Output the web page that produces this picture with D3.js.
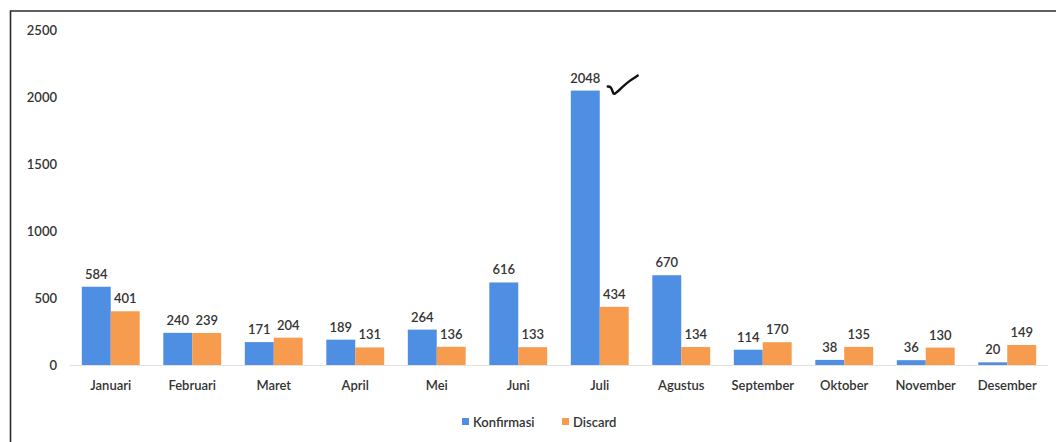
<!DOCTYPE html>
<html>
<head>
<meta charset="utf-8">
<script src="https://cdn.jsdelivr.net/npm/d3@7"></script>
<style>
	html, body { margin: 0; background: #fff; overflow: hidden; }
	svg { display: block; }
</style>
</head>
<body>
<div id="chart"></div>
<script>
// Data
const months = ["Januari", "Februari", "Maret", "April", "Mei", "Juni", "Juli", "Agustus", "September", "Oktober", "November", "Desember"];
const konfirmasi = [584, 240, 171, 189, 264, 616, 2048, 670, 114, 38, 36, 20];
const discard = [401, 239, 204, 131, 136, 133, 434, 134, 170, 135, 130, 149];
const seriesNames = ["Konfirmasi", "Discard"];
const yTicks = [0, 500, 1000, 1500, 2000, 2500];

const width = 1056;
const height = 442;
const colors = ["#4f8fe3", "#f79b4e"];
const textColor = "#333";
const font = "Lato, 'Open Sans', sans-serif";
const fontSize = "13px";

const rows = months.map((m, i) => ({ month: m, values: [konfirmasi[i], discard[i]] }));

const svg = d3
	.select("#chart")
	.append("svg")
	.attr("width", width)
	.attr("height", height)
	.attr("font-family", font);

// Scales
const x0 = d3
	.scaleBand()
	.domain(months)
	.range([70, 1048])
	.paddingInner(0.29)
	.paddingOuter(0.145);

const x1 = d3.scaleBand().domain([0, 1]).range([0, x0.bandwidth()]);

const y = d3.scaleLinear().domain([0, 2500]).range([365, 30]);

// Frame (top and left edges of the scanned box)
svg.append("path")
	.attr("fill", "none")
	.attr("stroke", "#2b2b2b")
	.attr("stroke-width", 1.6)
	.attr("d", d3.line()([[10.5, height], [10.5, 11], [width, 11]]));

// Y axis labels
svg.append("g")
	.attr("transform", "translate(57,0)")
	.call(d3.axisLeft(y).tickValues(yTicks).tickFormat(d3.format("d")).tickSize(0).tickPadding(0))
	.call((g) => g.select(".domain").remove())
	.selectAll(".tick text")
	.attr("font-family", font)
	.attr("font-size", fontSize)
	.attr("font-weight", 600)
	.attr("fill", textColor);

// Baseline
svg.append("line")
	.attr("x1", 70)
	.attr("x2", 1048)
	.attr("y1", y(0) + 0.5)
	.attr("y2", y(0) + 0.5)
	.attr("stroke", "#e2e2e2");

// Bars
const groups = svg
	.append("g")
	.selectAll("g")
	.data(rows)
	.join("g")
	.attr("transform", (d) => `translate(${x0(d.month)},0)`);

groups
	.selectAll("rect")
	.data((d) => d.values)
	.join("rect")
	.attr("x", (d, i) => x1(i))
	.attr("width", x1.bandwidth())
	.attr("y", (d) => y(d))
	.attr("height", (d) => y(0) - y(d))
	.attr("fill", (d, i) => colors[i]);

// Value labels
groups
	.selectAll("text")
	.data((d) => d.values)
	.join("text")
	.attr("x", (d, i) => x1(i) + x1.bandwidth() / 2)
	.attr("y", (d) => y(d) - 8)
	.attr("text-anchor", "middle")
	.attr("font-size", fontSize)
	.attr("font-weight", 600)
	.attr("fill", textColor)
	.text((d) => d);

// X axis labels
svg.append("g")
	.attr("transform", `translate(0,${y(0)})`)
	.call(d3.axisBottom(x0).tickSize(0).tickPadding(16))
	.call((g) => g.select(".domain").remove())
	.selectAll(".tick text")
	.attr("font-family", font)
	.attr("font-size", fontSize)
	.attr("font-weight", 600)
	.attr("fill", textColor);

// Handwritten check mark next to the Juli blue bar
const cx = x0("Juli") + x1.bandwidth();
const cy = y(2048);
svg.append("path")
	.attr("fill", "none")
	.attr("stroke", "#111")
	.attr("stroke-width", 2.4)
	.attr("stroke-linecap", "round")
	.attr("stroke-linejoin", "round")
	.attr("d", d3.line().curve(d3.curveBasis)([
		[cx + 8, cy - 4], [cx + 11, cy - 4], [cx + 13, cy + 1], [cx + 14, cy + 5],
		[cx + 22, cy - 3], [cx + 30, cy - 10], [cx + 38, cy - 15],
	]));

// Legend
const legend = svg
	.append("g")
	.selectAll("g")
	.data(seriesNames)
	.join("g")
	.attr("transform", (d, i) => `translate(${[462, 562][i]},${422})`);

legend.append("rect")
	.attr("x", 0)
	.attr("y", -4)
	.attr("width", 7)
	.attr("height", 7)
	.attr("fill", (d, i) => colors[i]);

legend.append("text")
	.attr("x", 11)
	.attr("dy", "0.35em")
	.attr("font-size", fontSize)
	.attr("font-weight", 600)
	.attr("fill", textColor)
	.text((d) => d);
</script>
</body>
</html>
